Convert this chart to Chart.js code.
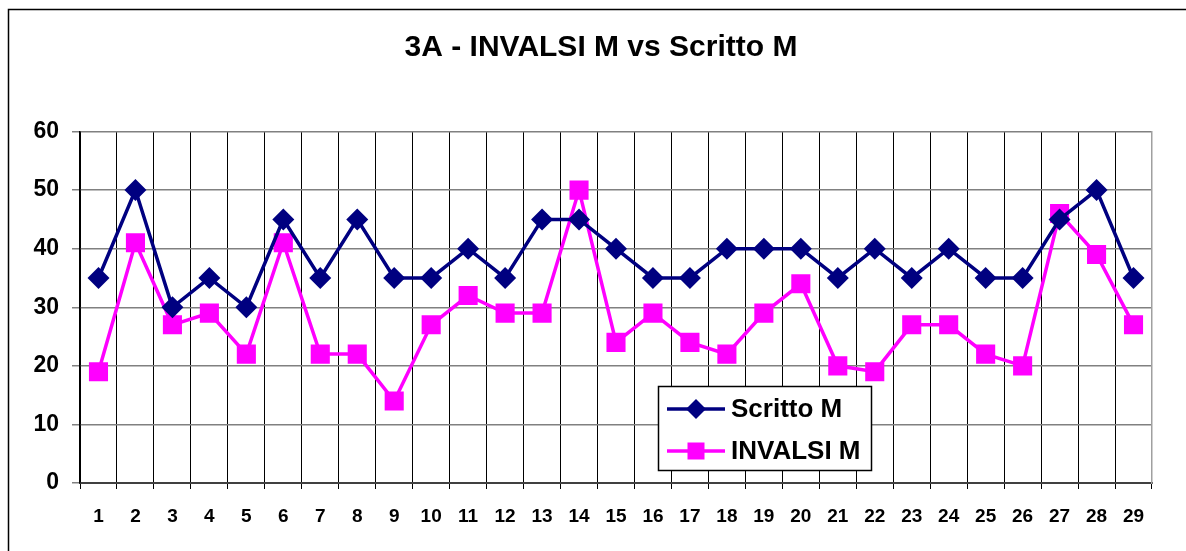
<!DOCTYPE html>
<html>
<head>
<meta charset="utf-8">
<script src="https://cdn.jsdelivr.net/npm/chart.js@4/dist/chart.umd.min.js"></script>
<style>
  html, body { margin: 0; padding: 0; background: #ffffff; }
  #wrap { width: 1186px; height: 551px; }
</style>
</head>
<body>
<div id="wrap"><canvas id="c" width="1186" height="551"></canvas></div>
<script>
const chartTitle = "3A - INVALSI M vs Scritto M";
const categories = ["1","2","3","4","5","6","7","8","9","10","11","12","13","14","15","16","17","18","19","20","21","22","23","24","25","26","27","28","29"];
const scrittoLabel = "Scritto M";
const scrittoValues = [35,50,30,35,30,45,35,45,35,35,40,35,45,45,40,35,35,40,40,40,35,40,35,40,35,35,45,50,35];
const invalsiLabel = "INVALSI M";
const invalsiValues = [19,41,27,29,22,41,22,22,14,27,32,29,29,50,24,29,24,22,29,34,20,19,27,27,22,20,46,39,27];
const yTicks = [0,10,20,30,40,50,60];

const FONT = "'Liberation Sans', Arial, Helvetica, sans-serif";

const framePlugin = {
  id: 'frame',
  beforeDraw(chart) {
    const ctx = chart.ctx;
    ctx.save();
    ctx.fillStyle = '#ffffff';
    ctx.fillRect(0, 0, chart.width, chart.height);
    ctx.strokeStyle = '#000000';
    ctx.lineWidth = 1.5;
    ctx.strokeRect(8.5, 9.5, 1400, 800);
    ctx.restore();
  }
};

const boxLegendPlugin = {
  id: 'boxLegend',
  afterDraw(chart) {
    const ctx = chart.ctx;
    const bx = 658, by = 386, bw = 213, bh = 84;
    ctx.save();
    ctx.fillStyle = '#ffffff';
    ctx.fillRect(bx, by, bw, bh);
    ctx.strokeStyle = '#000000';
    ctx.lineWidth = 1.5;
    ctx.strokeRect(bx + 0.5, by + 0.5, bw, bh);
    const rows = [409, 451];
    chart.data.datasets.forEach((ds, i) => {
      const y = rows[i];
      ctx.strokeStyle = ds.borderColor;
      ctx.lineWidth = 3.5;
      ctx.beginPath();
      ctx.moveTo(667, y);
      ctx.lineTo(725, y);
      ctx.stroke();
      ctx.fillStyle = ds.borderColor;
      const cx = 696;
      if (ds.pointStyle === 'rectRot') {
        const r = 10;
        ctx.beginPath();
        ctx.moveTo(cx - r, y); ctx.lineTo(cx, y - r); ctx.lineTo(cx + r, y); ctx.lineTo(cx, y + r);
        ctx.closePath(); ctx.fill();
      } else {
        const s = 17;
        ctx.fillRect(cx - s / 2, y - s / 2, s, s);
      }
      ctx.fillStyle = '#000000';
      ctx.font = "bold 26px " + FONT;
      ctx.textBaseline = 'middle';
      ctx.textAlign = 'left';
      ctx.fillText(ds.label, 731, y + 1);
    });
    ctx.restore();
  }
};

new Chart(document.getElementById('c'), {
  type: 'line',
  data: {
    labels: categories,
    datasets: [
      {
        label: scrittoLabel,
        data: scrittoValues,
        borderColor: '#000080',
        backgroundColor: '#000080',
        borderWidth: 3.5,
        pointStyle: 'rectRot',
        pointRadius: 11,
        pointHoverRadius: 11,
        pointBorderWidth: 0,
        tension: 0,
        fill: false
      },
      {
        label: invalsiLabel,
        data: invalsiValues,
        borderColor: '#FF00FF',
        backgroundColor: '#FF00FF',
        borderWidth: 3.5,
        pointStyle: 'rect',
        pointRadius: 13.5,
        pointHoverRadius: 13.5,
        pointBorderWidth: 0,
        tension: 0,
        fill: false
      }
    ]
  },
  options: {
    responsive: false,
    animation: false,
    events: [],
    layout: { padding: { left: 16, right: 0, top: 0, bottom: 0 } },
    plugins: {
      legend: { display: false },
      tooltip: { enabled: false },
      title: {
        display: true,
        text: chartTitle,
        color: '#000000',
        font: { family: FONT, size: 30, weight: 'bold', lineHeight: 1.2 },
        padding: { top: 30, bottom: 65.5 }
      }
    },
    scales: {
      x: {
        type: 'category',
        offset: true,
        grid: {
          display: true,
          offset: true,
          color: '#000000',
          lineWidth: 1,
          drawTicks: true,
          tickLength: 6,
          tickColor: '#000000'
        },
        border: { display: true, color: '#404040', width: 2 },
        ticks: {
          color: '#000000',
          font: { family: FONT, size: 19, weight: 'bold' },
          padding: 16,
          maxRotation: 0,
          autoSkip: false
        },
        afterFit(scale) { scale.height = 68; }
      },
      y: {
        type: 'linear',
        position: 'left',
        min: 0,
        max: 60,
        afterBuildTicks(scale) { scale.ticks = yTicks.map(v => ({ value: v })); },
        grid: {
          color: '#808080',
          lineWidth: 1.5,
          drawTicks: true,
          tickLength: 8,
          tickColor: '#808080'
        },
        border: { display: true, color: '#000000', width: 1.5 },
        ticks: {
          color: '#000000',
          font: { family: FONT, size: 23, weight: 'bold' },
          padding: 13
        },
        afterFit(scale) { scale.width = 64; }
      },
      yRight: {
        type: 'linear',
        position: 'right',
        min: 0,
        max: 60,
        display: true,
        grid: { display: false, drawTicks: false },
        border: { display: true, color: '#A0A0A0', width: 1.5 },
        ticks: { display: false },
        afterFit(scale) { scale.width = 34; }
      }
    }
  },
  plugins: [framePlugin, boxLegendPlugin]
});
</script>
</body>
</html>
